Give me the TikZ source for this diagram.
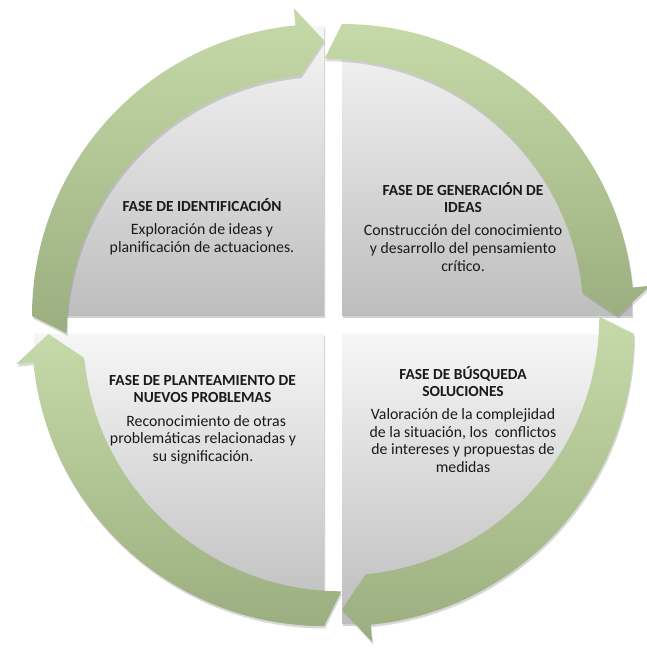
\documentclass[tikz,border=0pt]{standalone}
\usepackage{fontspec}
\setmainfont{Carlito}
\usetikzlibrary{shadows}
\definecolor{gLight}{HTML}{C6DAA9}
\definecolor{gDark}{HTML}{9AAE7F}
\definecolor{sLight}{HTML}{F6F6F6}
\definecolor{sDark}{HTML}{BDBDBD}
\definecolor{txt}{HTML}{1A1A1A}
\tikzset{
  sectorsty/.style={top color=sLight, bottom color=sDark,
    drop shadow={opacity=0.35, shadow xshift=1pt, shadow yshift=-2pt}},
  bandsty/.style={top color=gLight, bottom color=gDark,
    drop shadow={opacity=0.3, shadow xshift=1pt, shadow yshift=-2.5pt}},
  titlesty/.style={inner sep=0pt, align=center, text=txt,
    font=\fontsize{15.4}{17.6}\selectfont\bfseries},
  bodysty/.style={inner sep=0pt, align=center, text=txt,
    font=\fontsize{15.8}{17.6}\selectfont}
}
\newcommand\qsector[1]{\path[sectorsty] (0,0) -- ({#1+180}:290)
  arc[start angle={#1+180}, end angle={#1+90}, radius=290] -- cycle;}
\newcommand\qband[1]{\path[bandsty] ({#1+180}:292)
  arc[start angle={#1+180}, end angle={#1+95.6}, radius=292]
  -- ({#1+95.6}:309.5) -- ({#1+90}:275.5) -- ({#1+95.6}:241.5)
  arc[start angle={#1+95.6}, end angle={#1+180}, radius=259] -- cycle;}
\begin{document}
\begin{tikzpicture}[x=1pt,y=1pt]
\useasboundingbox (0,0) rectangle (647,649);
\fill[white] (0,0) rectangle (647,649);
\coordinate (TL) at (324,333);
\coordinate (TR) at (342,333);
\coordinate (BL) at (324,315);
\coordinate (BR) at (342,315);
% sectors
\begin{scope}[shift={(TL)}]\qsector{0}\end{scope}
\begin{scope}[shift={(TR)}]\qsector{-90}\end{scope}
\begin{scope}[shift={(BR)}]\qsector{-180}\end{scope}
\begin{scope}[shift={(BL)}]\qsector{90}\end{scope}
% arrows
\begin{scope}[shift={(TL)}]\qband{0}\end{scope}
\begin{scope}[shift={(TR)}]\qband{-90}\end{scope}
\begin{scope}[shift={(BR)}]\qband{-180}\end{scope}
\begin{scope}[shift={(BL)}]\qband{90}\end{scope}
% texts
\node[titlesty] (tlT) at (202,444) {FASE DE IDENTIFICACIÓN};
\node[bodysty] (tlB) at (202,410) {Exploración de ideas y\\planificación de actuaciones.};
\node[titlesty] (trT) at (463,451.5) {FASE DE GENERACIÓN DE\\IDEAS};
\node[bodysty] (trB) at (463,401) {Construcción del conocimiento\\y desarrollo del pensamiento\\crítico.};
\node[titlesty] (blT) at (202.5,260) {FASE DE PLANTEAMIENTO DE\\NUEVOS PROBLEMAS};
\node[bodysty] (blB) at (203,209.5) {\hspace{0.4em}Reconocimiento de otras\\problemáticas relacionadas y\\su significación.};
\node[titlesty] (brT) at (463,267.3) {FASE DE BÚSQUEDA\\SOLUCIONES};
\node[bodysty] (brB) at (463,208.4) {Valoración de la complejidad\\de la situación, los\ \ conflictos\\de intereses y propuestas de\\medidas};
\end{tikzpicture}
\end{document}
